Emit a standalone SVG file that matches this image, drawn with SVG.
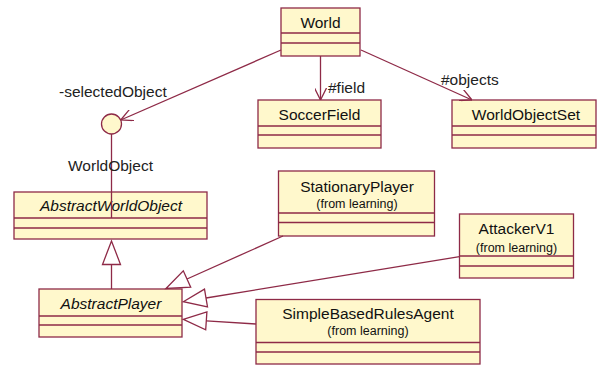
<svg xmlns="http://www.w3.org/2000/svg" width="597" height="365" viewBox="0 0 597 365">
<defs>
<style>
.box{fill:#FFF8CC;stroke:#8E2A47;stroke-width:1.3}
.div{stroke:#8E2A47;stroke-width:1.3}
.name{font-family:"Liberation Sans",Arial,sans-serif;font-size:15.5px;fill:#111;text-anchor:middle}
.it{font-style:italic}
.from{font-family:"Liberation Sans",Arial,sans-serif;font-size:12.5px;fill:#111;text-anchor:middle}
.lbl{font-family:"Liberation Sans",Arial,sans-serif;font-size:15.5px;fill:#222}
.conn{stroke:#8E2A47;stroke-width:1.3;fill:none}
.tri{fill:#fff;stroke:#8E2A47;stroke-width:1.3}
</style>
<marker id="open" viewBox="0 0 12 12" refX="12" refY="6" markerWidth="12" markerHeight="12" orient="auto" markerUnits="userSpaceOnUse">
<path d="M0,0 L12,6 L0,12" fill="none" stroke="#8E2A47" stroke-width="1.3"/>
</marker>
</defs>
<rect width="597" height="365" fill="#fff"/>

<g id="World">
<rect class="box" x="281" y="8" width="79" height="48"/>
<line class="div" x1="281" y1="33" x2="360" y2="33"/>
<line class="div" x1="281" y1="43" x2="360" y2="43"/>
<text class="name" x="320.5" y="28">World</text>
</g>

<g id="SoccerField">
<rect class="box" x="258" y="100" width="123" height="48"/>
<line class="div" x1="258" y1="126" x2="381" y2="126"/>
<line class="div" x1="258" y1="135" x2="381" y2="135"/>
<text class="name" x="319.5" y="120">SoccerField</text>
</g>

<g id="WorldObjectSet">
<rect class="box" x="452" y="100" width="144" height="48"/>
<line class="div" x1="452" y1="126" x2="596" y2="126"/>
<line class="div" x1="452" y1="135" x2="596" y2="135"/>
<text class="name" x="526" y="120">WorldObjectSet</text>
</g>

<g id="WorldObjectInterface">
<circle cx="111.5" cy="124" r="10" fill="#FFF8CC" stroke="#8E2A47" stroke-width="1.3"/>
</g>

<g id="AbstractWorldObject">
<rect class="box" x="14" y="192" width="193" height="47"/>
<line class="div" x1="14" y1="218" x2="207" y2="218"/>
<line class="div" x1="14" y1="228" x2="207" y2="228"/>
<text class="name it" x="111" y="210.5">AbstractWorldObject</text>
</g>

<g id="AbstractPlayer">
<rect class="box" x="39" y="289" width="143" height="48"/>
<line class="div" x1="39" y1="316" x2="182" y2="316"/>
<line class="div" x1="39" y1="325" x2="182" y2="325"/>
<text class="name it" x="111" y="309">AbstractPlayer</text>
</g>

<g id="StationaryPlayer">
<rect class="box" x="278.5" y="171" width="156" height="65"/>
<line class="div" x1="278.5" y1="213" x2="434.5" y2="213"/>
<line class="div" x1="278.5" y1="222.5" x2="434.5" y2="222.5"/>
<text class="name" x="357" y="191.5">StationaryPlayer</text>
<text class="from" x="357" y="208">(from learning)</text>
</g>

<g id="AttackerV1">
<rect class="box" x="459.5" y="214" width="114" height="64"/>
<line class="div" x1="459.5" y1="256" x2="573.5" y2="256"/>
<line class="div" x1="459.5" y1="266" x2="573.5" y2="266"/>
<text class="name" x="516.5" y="234">AttackerV1</text>
<text class="from" x="516.5" y="251.5">(from learning)</text>
</g>

<g id="SimpleBasedRulesAgent">
<rect class="box" x="256" y="299.5" width="224" height="64.5"/>
<line class="div" x1="256" y1="342.5" x2="480" y2="342.5"/>
<line class="div" x1="256" y1="352" x2="480" y2="352"/>
<text class="name" x="368" y="318.5">SimpleBasedRulesAgent</text>
<text class="from" x="368" y="335">(from learning)</text>
</g>

<g id="connectors">
<line class="conn" x1="320.5" y1="56" x2="320.5" y2="100" marker-end="url(#open)"/>
<line class="conn" x1="361" y1="50" x2="472" y2="100" marker-end="url(#open)"/>
<line class="conn" x1="281" y1="50" x2="120.7" y2="120" marker-end="url(#open)"/>
<line class="conn" x1="111.5" y1="134" x2="111.5" y2="218"/>
<line class="conn" x1="111.5" y1="264.5" x2="111.5" y2="289"/>
<polygon class="tri" points="111.5,241 102.5,264.5 120.5,264.5"/>
<line class="conn" x1="283" y1="236" x2="187" y2="279"/>
<polygon class="tri" points="166,288.5 183.3,270.8 190.7,287.2"/>
<line class="conn" x1="459.5" y1="256.7" x2="206" y2="298"/>
<polygon class="tri" points="183.3,301.7 204.5,289.1 207.5,306.9"/>
<line class="conn" x1="256" y1="324" x2="206.3" y2="320.8"/>
<polygon class="tri" points="183.3,319.3 206.9,311.8 205.7,329.8"/>
</g>

<g id="labels">
<text class="lbl" x="59" y="97">-selectedObject</text>
<text class="lbl" x="68" y="171">WorldObject</text>
<text class="lbl" x="328" y="93">#field</text>
<text class="lbl" x="441" y="85">#objects</text>
</g>
</svg>
